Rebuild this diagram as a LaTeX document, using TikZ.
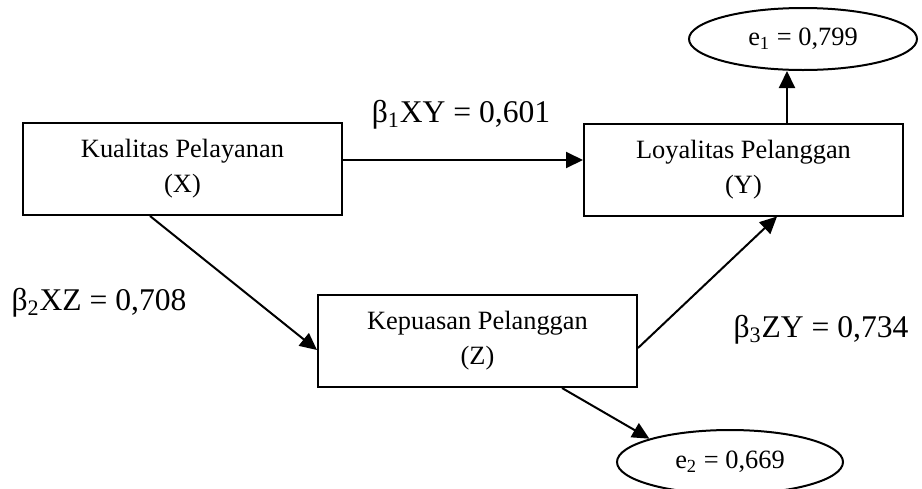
\documentclass[tikz,border=0pt]{standalone}
\usepackage{fontspec}
\setmainfont{Liberation Serif}
\usetikzlibrary{arrows.meta, shapes.geometric}

\begin{document}
\begin{tikzpicture}[x=0.5pt, y=-0.5pt, line width=1pt,
    >={Triangle[length=8.5pt, width=8pt]},
    var/.style={draw, rectangle, minimum width=159.5pt, minimum height=46pt,
      align=center, font=\fontsize{13.2}{17.5}\selectfont},
    err/.style={draw, ellipse, inner sep=0pt, font=\fontsize{13.2}{16}\selectfont},
    coef/.style={font=\fontsize{15.8}{18}\selectfont}]
    \useasboundingbox (0,0) rectangle (922,488);

    \node[var] (X) at (182.5,169) {Kualitas Pelayanan\\(X)};
    \node[var] (Y) at (743.5,169.5) {Loyalitas Pelanggan\\(Y)};
    \node[var] (Z) at (477.5,341) {Kepuasan Pelanggan\\(Z)};

    \node[err, minimum width=114pt, minimum height=31pt] (e1) at (803,39) {e\textsubscript{1} = 0,799};
    \node[err, minimum width=113pt, minimum height=32pt] (e2) at (730,462) {e\textsubscript{2} = 0,669};

    \node[coef] (b1) at (461,115) {β\textsubscript{1}XY = 0,601};
    \node[coef] (b2) at (99,303) {β\textsubscript{2}XZ = 0,708};
    \node[coef] (b3) at (821,330) {β\textsubscript{3}ZY = 0,734};

    \draw[->] ([yshift=4.5pt]X.east) -- ([yshift=4.5pt]X.east -| Y.west);
    \draw[->] ([xshift=-16.25pt]X.south) -- ([yshift=-4.5pt]Z.west);
    \draw[->] ([yshift=-3.5pt]Z.east) -- ([xshift=16.75pt]Y.south);
    \draw[->] ([xshift=42.25pt]Z.south) -- (e2.north west);
    \draw[->] ([xshift=21.75pt]Y.north) -- ([xshift=21.75pt]Y.north |- e1.south);
\end{tikzpicture}
\end{document}
